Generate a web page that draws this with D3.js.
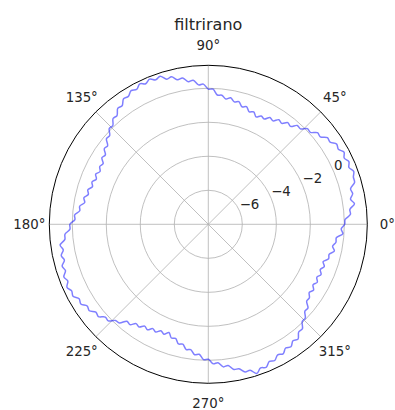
<!DOCTYPE html>
<html>
<head>
<meta charset="utf-8">
<script src="https://cdn.jsdelivr.net/npm/d3@7"></script>
<style>
  body { margin: 0; background: #fff; }
  text { font-family: "DejaVu Sans", sans-serif; fill: #262626; }
</style>
</head>
<body>
<div id="chart"></div>
<script>
var width = 395, height = 410
var cx = 208.3, cy = 224.3

var angles = d3.range(0, 360, 2)
var values = [
  0.02, 0.05, 0.38, 0.37, 0.68, 0.49, 0.68, 0.62, 0.95, 0.97,
  1.10, 0.92, 1.05, 0.89, 1.04, 0.83, 0.90, 0.64, 0.66, 0.36,
  0.38, 0.08, 0.10, -0.20, -0.18, -0.48, -0.41, -0.66, -0.58, -0.83,
  -0.75, -0.99, -0.91, -1.09, -0.87, -0.96, -0.73, -0.81, -0.57, -0.64,
  -0.44, -0.56, -0.37, -0.38, -0.05, -0.05, 0.25, 0.22, 0.52, 0.47,
  0.74, 0.69, 0.94, 0.87, 1.16, 1.04, 1.21, 1.05, 1.19, 0.98,
  1.08, 0.87, 0.91, 0.62, 0.65, 0.35, 0.37, 0.08, 0.10, -0.20,
  -0.18, -0.49, -0.44, -0.70, -0.62, -0.86, -0.77, -0.92, -0.75, -0.90,
  -0.72, -0.84, -0.63, -0.73, -0.52, -0.62, -0.36, -0.40, -0.12, -0.15,
  0.14, 0.14, 0.45, 0.48, 0.80, 0.66, 0.84, 0.72, 0.94, 0.83,
  1.04, 0.91, 1.10, 0.94, 1.01, 0.77, 0.84, 0.59, 0.65, 0.39,
  0.44, 0.15, 0.18, -0.14, -0.19, -0.56, -0.51, -0.78, -0.72, -0.94,
  -0.84, -1.05, -0.95, -1.15, -1.03, -1.23, -0.97, -1.02, -0.75, -0.79,
  -0.52, -0.56, -0.29, -0.34, -0.04, -0.06, 0.21, 0.16, 0.43, 0.38,
  0.67, 0.68, 0.95, 0.93, 1.23, 0.99, 1.07, 0.83, 0.91, 0.69,
  0.80, 0.58, 0.69, 0.47, 0.57, 0.27, 0.27, -0.05, -0.07, -0.36,
  -0.35, -0.66, -0.65, -0.84, -0.70, -0.89, -0.74, -0.90, -0.74, -0.90,
  -0.74, -0.90, -0.64, -0.68, -0.42, -0.58, -0.42, -0.43, -0.07, -0.18
]
var rTicks = [-6, -4, -2, 0]
var thetaTicks = [0, 45, 90, 135, 180, 225, 270, 315]
var rMin = -8, rMax = 1.35

var svg = d3.select("#chart").append("svg")
    .attr("width", width)
    .attr("height", height)

var g = svg.append("g")
    .attr("transform", "translate(" + cx + "," + cy + ")")

var r = d3.scaleLinear().domain([rMin, rMax]).range([0, 159])
var outer = r(rMax)

// angle in degrees, counter-clockwise from east
function px(deg, rad) { return rad * Math.cos(deg * Math.PI / 180) }
function py(deg, rad) { return -rad * Math.sin(deg * Math.PI / 180) }

// grid circles
g.selectAll(".rgrid")
  .data(rTicks).enter()
  .append("circle")
    .attr("r", function(d) { return r(d) })
    .style("fill", "none")
    .style("stroke", "#b0b0b0")
    .style("stroke-width", 0.8)

// spokes
g.selectAll(".tgrid")
  .data(thetaTicks).enter()
  .append("line")
    .attr("x1", 0).attr("y1", 0)
    .attr("x2", function(d) { return px(d, outer) })
    .attr("y2", function(d) { return py(d, outer) })
    .style("stroke", "#b0b0b0")
    .style("stroke-width", 0.8)

// data line
var line = d3.lineRadial()
    .angle(function(d, i) { return (90 - angles[i]) * Math.PI / 180 })
    .radius(function(d) { return r(d) })
    .curve(d3.curveCatmullRomClosed)

g.append("path")
    .datum(values)
    .attr("d", line)
    .style("fill", "none")
    .style("stroke", "#0000ff")
    .style("stroke-opacity", 0.5)
    .style("stroke-width", 1.5)

// outer spine
g.append("circle")
    .attr("r", outer)
    .style("fill", "none")
    .style("stroke", "#000")
    .style("stroke-width", 1)

// angle labels
g.selectAll(".tlabel")
  .data(thetaTicks).enter()
  .append("text")
    .attr("x", function(d) { return px(d, 179) })
    .attr("y", function(d) { return py(d, 179) })
    .attr("text-anchor", "middle")
    .attr("dy", "0.35em")
    .style("font-size", "13.33px")
    .text(function(d) { return d + "°" })

// radial labels
g.selectAll(".rlabel")
  .data(rTicks).enter()
  .append("text")
    .attr("x", function(d) { return px(22.5, r(d)) })
    .attr("y", function(d) { return py(22.5, r(d)) - 2 })
    .style("font-size", "13.33px")
    .text(function(d) { return d < 0 ? "\u2212" + Math.abs(d) : d })

svg.append("text")
    .attr("x", cx)
    .attr("y", 30)
    .attr("text-anchor", "middle")
    .style("font-size", "16px")
    .text("filtrirano")
</script>
</body>
</html>
